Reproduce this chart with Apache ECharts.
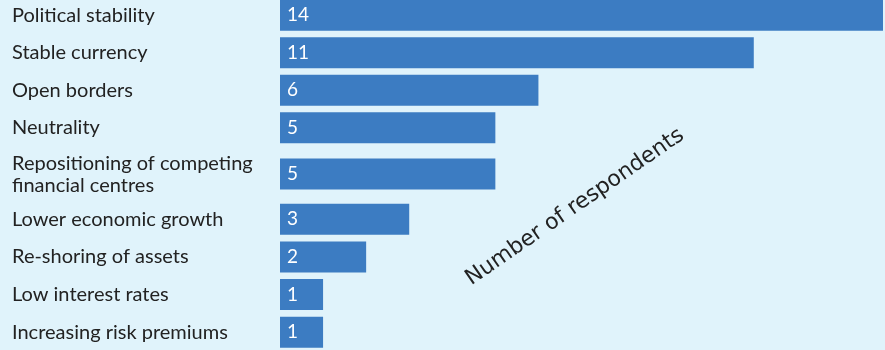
<!DOCTYPE html>
<html><head><meta charset="utf-8">
<script src="https://cdn.jsdelivr.net/npm/echarts@6/dist/echarts.min.js"></script>
<style>html,body{margin:0;padding:0;background:#e0f3fb;}#c{width:885px;height:350px;}</style>
</head><body><div id="c"></div>
<script>
const categories = ["Political stability","Stable currency","Open borders","Neutrality","Repositioning of competing\nfinancial centres","Lower economic growth","Re-shoring of assets","Low interest rates","Increasing risk premiums"];
const values = [14, 11, 6, 5, 5, 3, 2, 1, 1];
const axisTitle = "Number of respondents";
// row groups (first four, the tall two-line row, last four)
const groups = [[0,4],[4,5],[5,9]];
const gridBoxes = [{top:-3.4,height:150},{top:155.3,height:37.5},{top:200.4,height:150.6}];

const chart = echarts.init(document.getElementById('c'), null, {renderer:'canvas'});
const font = 'Lato';
const option = {
  backgroundColor:'#e0f3fb',
  animation:false,
  grid: gridBoxes.map(b=>Object.assign({left:280,right:2,containLabel:false,outerBoundsMode:'none'},b)),
  xAxis: groups.map((g,i)=>({type:'value',gridIndex:i,min:0,max:14,show:false})),
  yAxis: groups.map((g,i)=>({
    type:'category',gridIndex:i,inverse:true,data:categories.slice(g[0],g[1]),
    axisLine:{show:false},axisTick:{show:false},splitLine:{show:false},
    axisLabel:{align:'left',margin:268,color:'#222',fontFamily:font,fontSize:20,lineHeight:22,padding:[7,0,0,0]}
  })),
  series: groups.map((g,i)=>({
    type:'bar',xAxisIndex:i,yAxisIndex:i,barWidth:31,
    data:values.slice(g[0],g[1]),
    itemStyle:{color:'#3c7cc2'},
    label:{show:true,position:'insideLeft',distance:7,color:'#fff',fontFamily:font,fontSize:19}
  })),
  graphic:[{type:'text',x:575,y:207,rotation:0.604,
    style:{text:axisTitle,fontFamily:'DejaVu Sans',fontSize:22,fill:'#222',textAlign:'center',textVerticalAlign:'middle'}}]
};
chart.setOption(option);
</script></body></html>
